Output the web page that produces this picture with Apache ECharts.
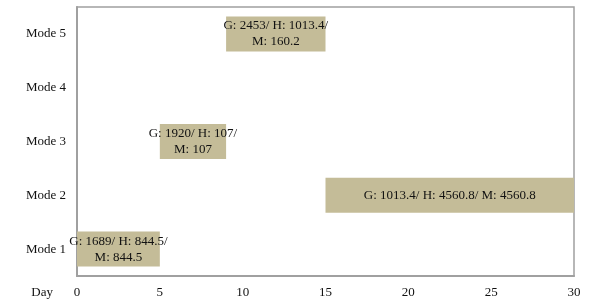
<!DOCTYPE html>
<html><head><meta charset="utf-8">
<script src="https://cdn.jsdelivr.net/npm/echarts@6/dist/echarts.min.js"></script>
<style>html,body{margin:0;padding:0;background:#fff}#c{width:599px;height:304px}</style>
</head><body><div id="c"></div>
<script>
const categories = ['Mode 1', 'Mode 2', 'Mode 3', 'Mode 4', 'Mode 5'];
const startDay = [0, 15, 5, null, 9];
const endDay = [5, 30, 9, null, 15];
const barLabels = ['G: 1689/ H: 844.5/\nM: 844.5', 'G: 1013.4/ H: 4560.8/ M: 4560.8', 'G: 1920/ H: 107/\nM: 107', '', 'G: 2453/ H: 1013.4/\nM: 160.2'];
const xTicks = [0, 5, 10, 15, 20, 25, 30];

const font = '"Liberation Serif", "Times New Roman", serif';
const duration = startDay.map((s, i) => s == null ? null : endDay[i] - s);

const chart = echarts.init(document.getElementById('c'), null, {renderer: 'canvas'});
chart.setOption({
  animation: false,
  grid: {left: 77, right: 25, top: 7, bottom: 28, show: true, borderColor: '#a0a0a0', borderWidth: 1.5},
  xAxis: {
    type: 'value', min: xTicks[0], max: xTicks[xTicks.length - 1], interval: 5,
    name: 'Day', nameLocation: 'start', nameGap: 24,
    nameTextStyle: {fontFamily: font, fontSize: 13, color: '#111', verticalAlign: 'top', padding: [10, 0, 0, 0]},
    axisLine: {show: true, lineStyle: {color: '#a0a0a0', width: 2}},
    axisTick: {show: false}, splitLine: {show: false},
    axisLabel: {fontFamily: font, fontSize: 13, color: '#111', margin: 10}
  },
  yAxis: {
    type: 'category', data: categories,
    axisLine: {show: true, lineStyle: {color: '#a0a0a0', width: 2}},
    axisTick: {show: false}, splitLine: {show: false},
    axisLabel: {fontFamily: font, fontSize: 13, color: '#111', margin: 11}
  },
  series: [
    {type: 'bar', stack: 'g', data: startDay, itemStyle: {color: 'transparent'}, barCategoryGap: '35%', silent: true},
    {type: 'bar', stack: 'g', data: duration, itemStyle: {color: '#c4bc98'}, barCategoryGap: '35%',
      label: {show: true, position: 'inside', fontFamily: font, fontSize: 13, color: '#111', lineHeight: 16,
        formatter: p => barLabels[p.dataIndex]}}
  ]
});
</script></body></html>
